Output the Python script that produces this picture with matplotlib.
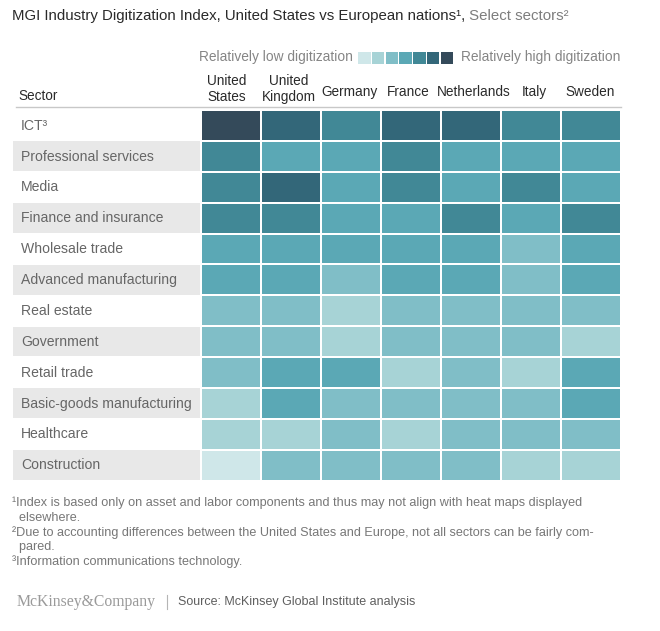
import numpy as np
import matplotlib
matplotlib.use("Agg")
import matplotlib.pyplot as plt
from matplotlib.colors import ListedColormap, BoundaryNorm
from matplotlib.patches import Rectangle

sectors = ["ICT³", "Professional services", "Media", "Finance and insurance",
           "Wholesale trade", "Advanced manufacturing", "Real estate", "Government",
           "Retail trade", "Basic-goods manufacturing", "Healthcare", "Construction"]
countries = ["United\nStates", "United\nKingdom", "Germany", "France", "Netherlands", "Italy", "Sweden"]
levels = [
    [7, 6, 5, 6, 6, 5, 5],
    [5, 4, 4, 5, 4, 4, 4],
    [5, 6, 4, 5, 4, 5, 4],
    [5, 5, 4, 4, 5, 4, 5],
    [4, 4, 4, 4, 4, 3, 4],
    [4, 4, 3, 4, 4, 3, 4],
    [3, 3, 2, 3, 3, 3, 3],
    [3, 3, 2, 3, 3, 3, 2],
    [3, 4, 4, 2, 3, 2, 4],
    [2, 4, 3, 3, 3, 3, 4],
    [2, 2, 3, 2, 3, 3, 3],
    [1, 3, 3, 3, 3, 2, 2],
]
palette = ["#CFE7E9", "#A7D3D6", "#80BEC7", "#5BA8B5", "#418896", "#336779", "#344A5A"]
footnotes = ["¹Index is based only on asset and labor components and thus may not align with heat maps displayed",
             "  elsewhere.",
             "²Due to accounting differences between the United States and Europe, not all sectors can be fairly com-",
             "  pared.",
             "³Information communications technology."]

W, H = 660, 631
plt.rcParams['font.family'] = ['Liberation Sans', 'DejaVu Sans']
fig = plt.figure(figsize=(W / 100, H / 100), dpi=100)

bg = fig.add_axes([0, 0, 1, 1])
bg.set_xlim(0, W)
bg.set_ylim(H, 0)
bg.axis("off")

X0, X1, Y0, Y1 = 201, 621, 110, 480.5
ax = fig.add_axes([X0 / W, 1 - Y1 / H, (X1 - X0) / W, (Y1 - Y0) / H])
cmap = ListedColormap(palette)
norm = BoundaryNorm(np.arange(0.5, 8.5), cmap.N)
ax.pcolormesh(np.array(levels), cmap=cmap, norm=norm, edgecolors="white", linewidth=1.3)
ax.set_ylim(len(sectors), 0)
ax.axis("off")

rh = (Y1 - Y0) / len(sectors)
DARK, GREY = "#2a2a2a", "#666666"

for i, s in enumerate(sectors):
    yc = Y0 + rh * (i + .5)
    if i % 2 == 1:
        bg.add_patch(Rectangle((13, Y0 + rh * i + .5), 187, rh - 1.2, fc="#E8E8E8", ec="none"))
    bg.text(21, yc + 0.2, s, fontsize=10.05, color=GREY, va="center", ha="left")

centers = [227, 289, 349, 408, 473.5, 534, 590]
for c, x in zip(countries, centers):
    if "\n" in c:
        top, bottom = c.split("\n")
        bg.text(x, 81.2, top, fontsize=9.8, color=DARK, ha="center", va="center")
        bg.text(x, 97, bottom, fontsize=9.8, color=DARK, ha="center", va="center")
    else:
        bg.text(x, 91.6, c, fontsize=9.8, color=DARK, ha="center", va="center")
bg.text(18.5, 95.6, "Sector", fontsize=9.8, color=DARK, va="center", ha="left")
bg.plot([16, 621], [106.5, 106.5], color="#c8c8c8", lw=1)

t = bg.text(12, 16, "MGI Industry Digitization Index, United States vs European nations¹,",
            fontsize=10.8, color=DARK, va="center", ha="left")
bg.annotate(" Select sectors²", xy=(1, 0), xycoords=t, va="bottom", ha="left",
            fontsize=10.8, color="#7d7d7d")

bg.text(353, 57, "Relatively low digitization", fontsize=9.92, color="#858585", ha="right", va="center")
bg.text(461, 57, "Relatively high digitization", fontsize=9.92, color="#858585", ha="left", va="center")
for i, col in enumerate(palette):
    bg.add_patch(Rectangle((358 + i * 13.75, 52), 12.5, 11.5, fc=col, ec="none"))

for i, line in enumerate(footnotes):
    bg.text(12, 503.2 + i * 14.7, line, fontsize=9.1, color="#777777", va="center", ha="left")

bg.text(16.5, 602, "McKinsey&Company", family="Liberation Serif", fontsize=11.3, color="#9a9a9a", va="center", ha="left")
bg.plot([166.5, 166.5], [595, 609], color="#b5b5b5", lw=.8)
bg.text(178, 602, "Source: McKinsey Global Institute analysis", fontsize=9.0, color="#5f5f5f", va="center", ha="left")

fig.savefig("out.png", dpi=100, facecolor="white")
